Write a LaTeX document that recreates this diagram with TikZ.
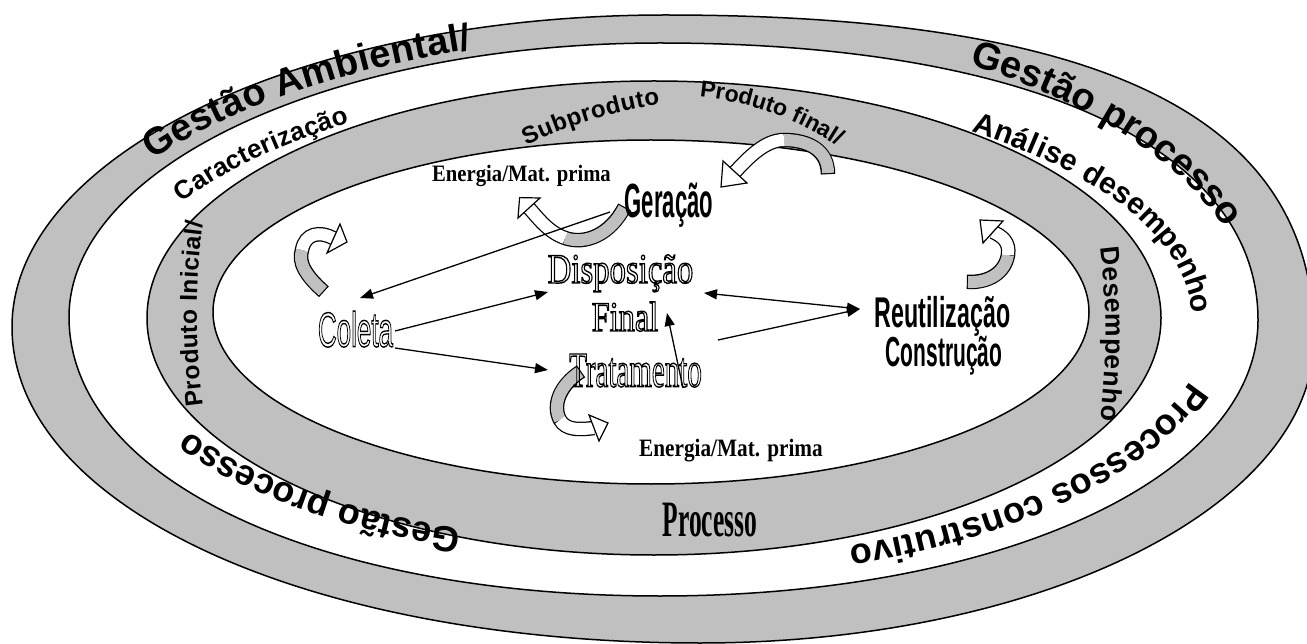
\documentclass[tikz,border=0pt]{standalone}
\usepackage{fontspec}
\usepackage{graphicx}
\setmainfont{Liberation Serif}
\newfontfamily\sansf{Liberation Sans}
\usetikzlibrary{decorations.text,arrows.meta}
\definecolor{bandgray}{RGB}{192,192,192}
\newcommand\outl[1]{\special{pdf:literal direct 1 Tr 1.4 w}#1\special{pdf:literal direct 0 Tr}}
% #1,#2 centre; #3,#4 radii; #5,#6 angles; #7 font size; #8 raise; #9 text
\newcommand\ringtext[9]{%
  \path[decorate,decoration={text along path,text align={fit to path},raise=#8pt,
    text={|\sansf\bfseries\fontsize{#7}{#7}\selectfont|#9}}]
    ([shift={(#1,#2)}]#5:#3 and #4) arc[start angle=#5,end angle=#6,x radius=#3,y radius=#4];}
\tikzset{
  ring/.style={line width=1.5pt,draw=black,line join=round},
  conn/.style={line width=1.3pt,-{Triangle[length=13pt,width=10pt]}},
  conntwo/.style={line width=1.3pt,{Triangle[length=13pt,width=10pt]}-{Triangle[length=13pt,width=10pt]}},
  bandout/.style={line width=14.5pt,draw=black,shorten <=-1.2pt},
  bandgr/.style={line width=12pt,draw=bandgray},
  bandwh/.style={line width=12pt,draw=white},
  head/.style={fill=white,draw=black,line width=1.2pt,line join=miter},
  lbl/.style={anchor=base,inner sep=0pt},
}
\begin{document}
\begin{tikzpicture}[x=1pt,y=-1pt]
\useasboundingbox (0,0) rectangle (1307,644);
\fill[white] (0,0) rectangle (1307,644);
% rings
\filldraw[ring,fill=bandgray] (12,327) .. controls (12,154.7) and (304.3,15) .. (665,15)
  .. controls (1106.3,15) and (1314,118.7) .. (1314,339)
  .. controls (1314,506.9) and (1039.1,643) .. (700,643)
  .. controls (307.8,643) and (12,507.1) .. (12,327) -- cycle;
\filldraw[ring,fill=white] (69,317) .. controls (69,165.7) and (333.6,43) .. (660,43)
  .. controls (1030.8,43) and (1258,148.3) .. (1258,320)
  .. controls (1258,477.3) and (1000.9,596) .. (660,596)
  .. controls (317.2,596) and (69,478.8) .. (69,317) -- cycle;
\filldraw[ring,fill=bandgray] (654,318) ellipse [x radius=507, y radius=237];
\filldraw[ring,fill=white] (651,312) ellipse [x radius=438, y radius=172];
% ring texts
\ringtext{660}{324}{632}{302}{215.5}{252.5}{38}{-13.6}{Gestão Ambiental/}
\ringtext{660}{324}{609}{318}{301}{341}{38}{-13.6}{Gestão processo}
\ringtext{658.5}{318.5}{556.6}{246.7}{210}{236}{26}{-9.3}{Caracterização}
\ringtext{658.5}{318.5}{544}{242}{305.5}{358.5}{30}{-10.7}{Análise desempenho}
\ringtext{658.5}{318.5}{564}{255.7}{16}{70}{36}{-12.9}{Processos construtivo}
\ringtext{658.5}{318.5}{557}{240}{111}{149}{36}{-12.9}{Gestão processo}
\ringtext{900}{314}{712}{712}{172.5}{187.5}{24.5}{-8.8}{Produto Inicial/}
\ringtext{735}{589}{499}{499}{244.8}{261.2}{24}{-8.6}{Subproduto}
\ringtext{669}{399}{312}{312}{275.8}{303.7}{23}{-8.2}{Produto final/}
\ringtext{400}{334}{715}{715}{-7}{7}{26.5}{-9.5}{Desempenho}
\node[lbl] (processo) at (710,536.7) {\scalebox{0.5}[1]{\bfseries\fontsize{51}{51}\selectfont Processo}};
% curved block arrows
% near Coleta
\draw[bandout] (323,291) .. controls (305,275) and (298,262) .. (302,250) .. controls (305,233) and (320,231) .. (333,238);
\draw[bandgr] (323,291) .. controls (305,275) and (298,262) .. (302,250);
\draw[bandwh] (302,250) .. controls (305,233) and (320,231) .. (333,238);
\draw[head] (340,224) -- (347,242) -- (327,253) -- cycle;
% near Geracao
\draw[bandout] (624,208) .. controls (610,235) and (585,245) .. (565,238) .. controls (548,232) and (538,218) .. (529,208);
\draw[bandgr] (624,208) .. controls (610,235) and (585,245) .. (565,238);
\draw[bandwh] (565,238) .. controls (548,232) and (538,218) .. (529,208);
\draw[head] (540,198) -- (519.6,197.6) -- (518,218) -- cycle;
% near Produto final
\draw[bandout] (828,173) .. controls (828,150) and (808,140) .. (784,140) .. controls (765,140) and (748,158) .. (735,172);
\draw[bandgr] (828,173) .. controls (828,150) and (808,140) .. (784,140);
\draw[bandwh] (784,140) .. controls (765,140) and (748,158) .. (735,172);
\draw[head] (747,183) -- (721,187) -- (723,161) -- cycle;
% near Reutilizacao
\draw[bandout] (968,282) .. controls (990,283) and (1005,272) .. (1008,255) .. controls (1010,242) and (1002,236) .. (993,232);
\draw[bandgr] (968,282) .. controls (990,283) and (1005,272) .. (1008,255);
\draw[bandwh] (1008,255) .. controls (1010,242) and (1002,236) .. (993,232);
\draw[head] (1003,221) -- (980,220) -- (983,243) -- cycle;
% near Tratamento
\draw[bandout] (580,372) .. controls (560,385) and (552,405) .. (560,420) .. controls (566,430) and (578,430) .. (594,428);
\draw[bandgr] (580,372) .. controls (560,385) and (552,405) .. (560,420);
\draw[bandwh] (560,420) .. controls (566,430) and (578,430) .. (594,428);
\draw[head] (599,441) -- (608,423) -- (589,415) -- cycle;
% inner texts
\node[lbl] (energiaA) at (521.5,182) {\scalebox{0.88}[1]{\bfseries\fontsize{23.5}{24}\selectfont Energia/Mat. prima}};
\node[lbl] (geracao) at (669,218) {\scalebox{0.46}[1]{\sansf\bfseries\fontsize{48}{48}\selectfont Geração}};
\node[lbl] (disp) at (620.5,283) {\scalebox{0.78}[1]{\fontsize{42}{42}\selectfont\outl{Disposição}}};
\node[lbl] (final) at (625,331) {\scalebox{0.77}[1]{\fontsize{42}{42}\selectfont\outl{Final}}};
\node[lbl] (trat) at (635.5,386.7) {\scalebox{0.58}[1]{\fontsize{50}{50}\selectfont\outl{Tratamento}}};
\node[lbl] (coleta) at (355.5,346.7) {\scalebox{0.53}[1]{\sansf\fontsize{49}{49}\selectfont\outl{Coleta}}};
\node[lbl] (reut) at (942.5,328) {\scalebox{0.54}[1]{\sansf\bfseries\fontsize{43}{43}\selectfont Reutilização}};
\node[lbl] (constr) at (944,366.7) {\scalebox{0.50}[1]{\sansf\bfseries\fontsize{42}{42}\selectfont Construção}};
\node[lbl] (energiaB) at (731,456.7) {\scalebox{0.85}[1]{\bfseries\fontsize{25}{25}\selectfont Energia/Mat. prima}};
% connector end points
\coordinate (gerW) at (610,212);
\coordinate (colN) at (360,298);
\coordinate (colE1) at (395,331);
\coordinate (colE2) at (395,348);
\coordinate (dispW) at (548,292);
\coordinate (tratW) at (548,370);
\coordinate (dispE) at (704,293);
\coordinate (reutW) at (860,309);
\coordinate (tratE) at (718,340);
\coordinate (tratN) at (683,388);
\coordinate (finalS) at (667,313);
\draw[conn] (gerW) -- (colN);
\draw[conn] (colE1) -- (dispW);
\draw[conn] (colE2) -- (tratW);
\draw[conntwo] (dispE) -- (reutW);
\draw[conn] (tratE) -- (reutW);
\draw[conn] (tratN) -- (finalS);
\end{tikzpicture}
\end{document}
